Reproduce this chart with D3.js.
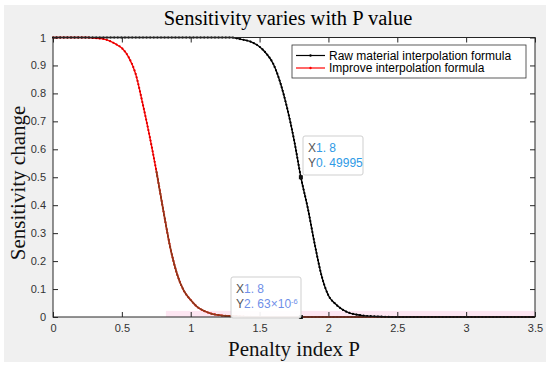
<!DOCTYPE html>
<html>
<head>
<meta charset="utf-8">
<script src="https://cdn.jsdelivr.net/npm/d3@7"></script>
<style>
  body { margin: 0; background: #fff; }
  .tick text { font-family: "Liberation Sans", Arial, sans-serif; font-size: 11px; fill: #333; }
  .tick line { stroke: #262626; }
</style>
</head>
<body>
<script>
// penalty index P, sampled every 0.05
var pValues = d3.range(0, 71).map(function(i) { return +(i * 0.05).toFixed(2); });

// Raw material interpolation formula
var rawValues = [
  1, 1, 1, 1, 1, 1, 1, 1, 1, 1,
  1, 1, 1, 1, 1, 1, 1, 1, 1, 1,
  1, 1, 1, 1, 1, 1, 1, 0.995, 0.99, 0.982,
  0.967, 0.942, 0.905, 0.839, 0.748, 0.635, 0.5, 0.39, 0.262, 0.148,
  0.077, 0.047, 0.027, 0.015, 0.009, 0.005, 0.003, 0.002, 0.001, 0,
  0, 0, 0, 0, 0, 0, 0, 0, 0, 0,
  0, 0, 0, 0, 0, 0, 0, 0, 0, 0,
  0
];

// Improve interpolation formula
var improveValues = [
  1, 1, 1, 1, 1, 1, 0.998, 0.996, 0.99, 0.978,
  0.962, 0.929, 0.87, 0.766, 0.651, 0.524, 0.384, 0.252, 0.155, 0.094,
  0.061, 0.035, 0.021, 0.012, 0.007, 0.004, 0.003, 0.002, 0.001, 0,
  0, 0, 0, 0, 0, 0, 0, 0, 0, 0,
  0, 0, 0, 0, 0, 0, 0, 0, 0, 0,
  0, 0, 0, 0, 0, 0, 0, 0, 0, 0,
  0, 0, 0, 0, 0, 0, 0, 0, 0, 0,
  0
];

var seriesNames = ["Raw material interpolation formula", "Improve interpolation formula"];
var xTicks = [0, 0.5, 1, 1.5, 2, 2.5, 3, 3.5];
var yTicks = [0, 0.1, 0.2, 0.3, 0.4, 0.5, 0.6, 0.7, 0.8, 0.9, 1];

// data tips
var tipX = 1.8;
var tipRawY = 0.49995;
var tipImproveY = 2.63e-6;

var svgWidth = 550, svgHeight = 370;
var plot = { left: 53, right: 535, top: 37.5, bottom: 317 };

var svg = d3.select("body").append("svg")
  .attr("width", svgWidth)
  .attr("height", svgHeight);

// grey figure background
svg.append("rect")
  .attr("x", 4).attr("y", 5)
  .attr("width", 542).attr("height", 357)
  .attr("fill", "#f0f0f0");

var xScale = d3.scaleLinear().domain([0, 3.5]).range([plot.left, plot.right]);
var yScale = d3.scaleLinear().domain([0, 1]).range([plot.bottom, plot.top]);

svg.append("rect")
  .attr("x", plot.left).attr("y", plot.top)
  .attr("width", plot.right - plot.left)
  .attr("height", plot.bottom - plot.top)
  .attr("fill", "#fff");

// faint pink band near the bottom (as in the original screenshot)
svg.append("rect")
  .attr("x", xScale(0.82)).attr("y", yScale(0.022))
  .attr("width", xScale(3.5) - xScale(0.82))
  .attr("height", yScale(0) - yScale(0.022))
  .attr("fill", "#fde6f2");

var fmt = function(d) { return String(+d.toFixed(1)); };

svg.append("g")
  .attr("transform", `translate(0, ${plot.bottom})`)
  .call(d3.axisBottom(xScale).tickValues(xTicks).tickSizeInner(-5).tickSizeOuter(0).tickPadding(7).tickFormat(fmt))
  .call(g => g.select(".domain").remove());

svg.append("g")
  .attr("transform", `translate(0, ${plot.top})`)
  .call(d3.axisTop(xScale).tickValues(xTicks).tickSizeInner(-5).tickSizeOuter(0).tickFormat(""))
  .call(g => g.select(".domain").remove());

svg.append("g")
  .attr("transform", `translate(${plot.left}, 0)`)
  .call(d3.axisLeft(yScale).tickValues(yTicks).tickSizeInner(-5).tickSizeOuter(0).tickPadding(7).tickFormat(fmt))
  .call(g => g.select(".domain").remove());

svg.append("g")
  .attr("transform", `translate(${plot.right}, 0)`)
  .call(d3.axisRight(yScale).tickValues(yTicks).tickSizeInner(-5).tickSizeOuter(0).tickFormat(""))
  .call(g => g.select(".domain").remove());

var line = d3.line()
  .x(d => xScale(d.p))
  .y(d => yScale(d.v))
  .curve(d3.curveMonotoneX);

var rawData = pValues.map((p, i) => ({ p: p, v: rawValues[i] }));
var improveData = pValues.map((p, i) => ({ p: p, v: improveValues[i] }));

function drawSeries(data, color, dotColor) {
  svg.append("path").datum(data)
    .attr("d", line)
    .attr("fill", "none")
    .attr("stroke", color)
    .attr("stroke-width", 1.4);
  // small markers along the line
  svg.append("path").datum(data)
    .attr("d", line)
    .attr("fill", "none")
    .attr("stroke", dotColor)
    .attr("stroke-width", 2.2)
    .attr("stroke-linecap", "round")
    .attr("stroke-dasharray", "0 3.6");
}

drawSeries(improveData, "#ff0000", "#e00000");
// lower part of the red curve looks brownish in the original
svg.append("path").datum(improveData.filter(d => d.p >= 0.75))
  .attr("d", line)
  .attr("fill", "none")
  .attr("stroke", "#8a3b1c")
  .attr("stroke-width", 1.6);
drawSeries(rawData, "#000000", "#000000");

// axes box
svg.append("rect")
  .attr("x", plot.left).attr("y", plot.top)
  .attr("width", plot.right - plot.left)
  .attr("height", plot.bottom - plot.top)
  .attr("fill", "none")
  .attr("stroke", "#262626")
  .attr("stroke-width", 1);

// legend
var legend = svg.append("g");
legend.append("rect")
  .attr("x", 292).attr("y", 45)
  .attr("width", 234).attr("height", 33)
  .attr("fill", "#fff")
  .attr("stroke", "#333")
  .attr("stroke-width", 0.8);
var legendColors = ["#000000", "#ff0000"];
seriesNames.forEach(function(name, i) {
  var y = 55.5 + i * 12.5;
  legend.append("line")
    .attr("x1", 296).attr("x2", 325).attr("y1", y).attr("y2", y)
    .attr("stroke", legendColors[i]).attr("stroke-width", 1.2);
  legend.append("circle")
    .attr("cx", 310.5).attr("cy", y).attr("r", 1.2)
    .attr("fill", legendColors[i]);
  legend.append("text")
    .attr("x", 329).attr("y", y + 4.2)
    .attr("font-family", "Liberation Sans, Arial, sans-serif")
    .attr("font-size", 12)
    .attr("fill", "#000")
    .text(name);
});

// data tip markers
svg.append("rect")
  .attr("x", xScale(tipX) - 2).attr("y", yScale(tipRawY) - 2)
  .attr("width", 4).attr("height", 4).attr("fill", "#111");
svg.append("rect")
  .attr("x", xScale(tipX) - 2).attr("y", yScale(tipImproveY) - 2)
  .attr("width", 4).attr("height", 4).attr("fill", "#111");

function dataTip(x, y, w, h, xText, yText, yExp, valColor) {
  var g = svg.append("g");
  g.append("rect")
    .attr("x", x).attr("y", y).attr("width", w).attr("height", h)
    .attr("rx", 2)
    .attr("fill", "#fff").attr("fill-opacity", 0.92)
    .attr("stroke", "#cfcfcf").attr("stroke-width", 1);
  var t1 = g.append("text")
    .attr("x", x + 5).attr("y", y + 16)
    .attr("font-family", "Liberation Sans, Arial, sans-serif")
    .attr("font-size", 12);
  t1.append("tspan").attr("fill", "#555").text("X");
  t1.append("tspan").attr("fill", valColor).text(xText);
  var t2 = g.append("text")
    .attr("x", x + 5).attr("y", y + 30.5)
    .attr("font-family", "Liberation Sans, Arial, sans-serif")
    .attr("font-size", 12);
  t2.append("tspan").attr("fill", "#555").text("Y");
  t2.append("tspan").attr("fill", valColor).text(yText);
  if (yExp) {
    t2.append("tspan").attr("fill", valColor).attr("font-size", 7.5).attr("dy", -4).text(yExp);
  }
}

dataTip(303, 136, 60, 39, "1. 8", "0. 49995", null, "#2e9ae6");
dataTip(231, 277, 70, 41, "1. 8", "2. 63\u00d710", "-6", "#6f8fe8");

// titles
var serif = "Palatino Linotype, Book Antiqua, Liberation Serif, serif";
svg.append("text")
  .attr("x", 288).attr("y", 25)
  .attr("text-anchor", "middle")
  .attr("font-family", serif)
  .attr("font-size", 20.5)
  .attr("fill", "#000")
  .text("Sensitivity varies with P value");

svg.append("text")
  .attr("x", 294).attr("y", 356)
  .attr("text-anchor", "middle")
  .attr("font-family", serif)
  .attr("font-size", 21)
  .attr("fill", "#111")
  .text("Penalty index P");

svg.append("text")
  .attr("transform", "translate(25, 183) rotate(-90)")
  .attr("text-anchor", "middle")
  .attr("font-family", serif)
  .attr("font-size", 21)
  .attr("fill", "#111")
  .text("Sensitivity change");
</script>
</body>
</html>
